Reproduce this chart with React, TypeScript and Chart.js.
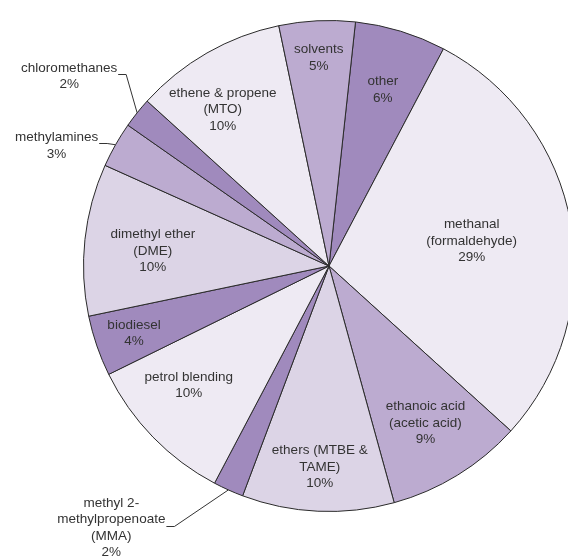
import React, { useEffect, useRef } from 'react';
import { Chart, registerables } from 'chart.js';

Chart.register(...registerables);

// ---- data ----
const categories = [
  'other',
  'methanal (formaldehyde)',
  'ethanoic acid (acetic acid)',
  'ethers (MTBE & TAME)',
  'methyl 2-methylpropenoate (MMA)',
  'petrol blending',
  'biodiesel',
  'dimethyl ether (DME)',
  'methylamines',
  'chloromethanes',
  'ethene & propene (MTO)',
  'solvents',
];
const values = [6, 29, 9, 10, 2, 10, 4, 10, 3, 2, 10, 5];
const labelLines = [
  ['other'],
  ['methanal', '(formaldehyde)'],
  ['ethanoic acid', '(acetic acid)'],
  ['ethers (MTBE &', 'TAME)'],
  ['methyl 2-', 'methylpropenoate', '(MMA)'],
  ['petrol blending'],
  ['biodiesel'],
  ['dimethyl ether', '(DME)'],
  ['methylamines'],
  ['chloromethanes'],
  ['ethene & propene', '(MTO)'],
  ['solvents'],
];

// ---- styles ----
const DARK = '#a08abd';
const MED = '#bcabd0';
const LIGHT = '#dcd4e6';
const PALE = '#eeeaf3';
const colors = [DARK, PALE, MED, LIGHT, DARK, PALE, DARK, LIGHT, MED, DARK, PALE, MED];

// label placement: inside labels -> radius fraction + angle offset (deg);
// outside labels -> offset from arc edge point, and which line carries the leader
type Place = { frac?: number; da?: number; out?: boolean; dx?: number; dy?: number; leader?: number };
const placements: Place[] = [
  { frac: 0.75, da: 0 },
  { frac: 0.59, da: 0 },
  { frac: 0.75, da: 0 },
  { frac: 0.82, da: 0 },
  { out: true, dx: -117, dy: 38, leader: 1 },
  { frac: 0.75, da: 3.8 },
  { frac: 0.84, da: 0 },
  { frac: 0.72, da: -1.4 },
  { out: true, dx: -59, dy: 1, leader: 0 },
  { out: true, dx: -68, dy: -36.5, leader: 0 },
  { frac: 0.77, da: -4.4 },
  { frac: 0.85, da: 0 },
];

const FONT = '13.5px "Liberation Sans", Arial, sans-serif';
const LINE_H = 16.5;

const labelPlugin = {
  id: 'sliceLabels',
  afterDatasetsDraw(chart: any) {
    const ctx = chart.ctx as CanvasRenderingContext2D;
    const meta = chart.getDatasetMeta(0);
    ctx.save();
    ctx.font = FONT;
    ctx.fillStyle = '#333333';
    ctx.textAlign = 'center';
    ctx.textBaseline = 'middle';
    meta.data.forEach((arc: any, i: number) => {
      const { x, y, startAngle, endAngle, outerRadius } = arc.getProps(
        ['x', 'y', 'startAngle', 'endAngle', 'outerRadius'],
        true
      );
      const mid = (startAngle + endAngle) / 2;
      const lines = [...labelLines[i], values[i] + '%'];
      const p = placements[i];
      let cx: number, cy: number;
      if (p.out) {
        const ex = x + Math.cos(mid) * outerRadius;
        const ey = y + Math.sin(mid) * outerRadius;
        cx = ex + (p.dx || 0);
        cy = ey + (p.dy || 0);
        const li = p.leader || 0;
        const ly = cy + (li - (lines.length - 1) / 2) * LINE_H + 6;
        const w = ctx.measureText(lines[li]).width;
        const lx0 = cx + w / 2 + 1;
        ctx.save();
        ctx.strokeStyle = '#333333';
        ctx.lineWidth = 1;
        ctx.beginPath();
        ctx.moveTo(lx0, Math.round(ly) + 0.5);
        ctx.lineTo(lx0 + 8, Math.round(ly) + 0.5);
        ctx.lineTo(ex, ey);
        ctx.stroke();
        ctx.restore();
      } else {
        const a = mid + ((p.da || 0) * Math.PI) / 180;
        const r = outerRadius * (p.frac || 0.7);
        cx = x + Math.cos(a) * r;
        cy = y + Math.sin(a) * r;
      }
      lines.forEach((t, k) => {
        ctx.fillText(t, cx, cy + (k - (lines.length - 1) / 2) * LINE_H);
      });
    });
    ctx.restore();
  },
};

export default function App() {
  const ref = useRef<HTMLCanvasElement>(null);
  useEffect(() => {
    if (!ref.current) return;
    const chart = new Chart(ref.current, {
      type: 'pie',
      data: {
        labels: categories,
        datasets: [
          {
            data: values,
            backgroundColor: colors,
            borderColor: '#2a2a2a',
            borderWidth: 1,
            hoverOffset: 0,
          },
        ],
      },
      options: {
        responsive: false,
        animation: false,
        devicePixelRatio: 1,
        rotation: 6.2,
        layout: { padding: { left: 83, right: 25, top: 20, bottom: 44 } },
        plugins: {
          legend: { display: false },
          tooltip: { enabled: false },
        },
      },
      plugins: [labelPlugin],
    });
    return () => chart.destroy();
  }, []);
  return (
    <div
      style={{
        position: 'absolute',
        left: 0,
        top: 0,
        width: 568,
        height: 556,
        overflow: 'hidden',
        background: '#ffffff',
      }}
    >
      <canvas ref={ref} width={600} height={556} style={{ display: 'block' }} />
    </div>
  );
}
